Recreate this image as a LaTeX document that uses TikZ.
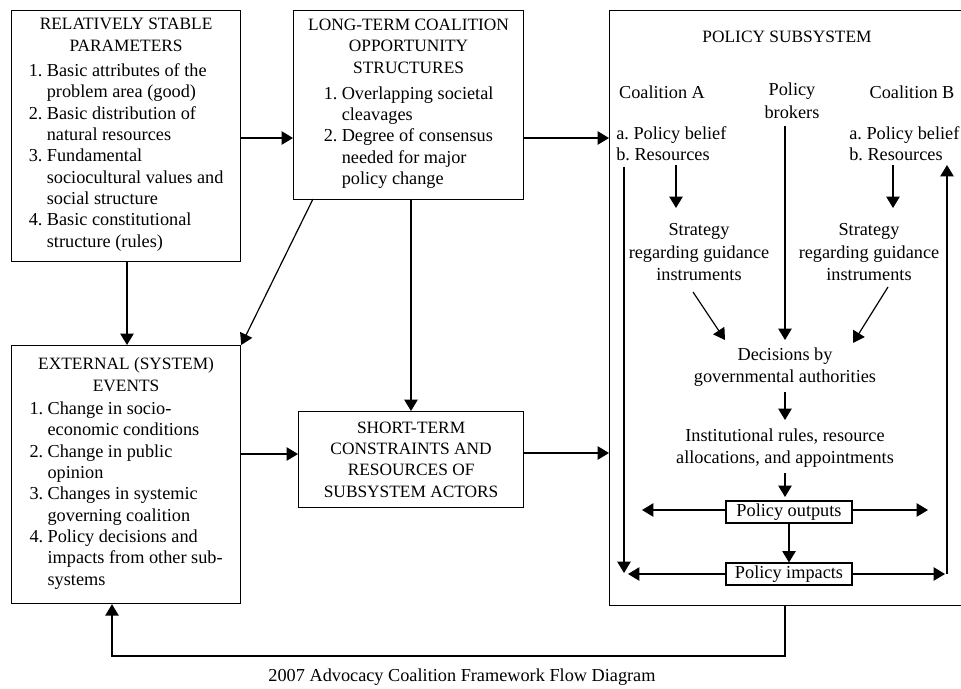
\documentclass[tikz,border=0pt]{standalone}
\usepackage{fontspec}
\usepackage{array}
\setmainfont{Liberation Serif}
\usetikzlibrary{arrows.meta,calc}
\newcommand{\fcap}{\fontsize{13}{16}\selectfont\frenchspacing}
\newcommand{\fbody}{\fontsize{13.7}{16}\selectfont\frenchspacing}
\tikzset{
  box/.style={draw, line width=0.9pt, anchor=north west, inner sep=0pt, align=center, font=\fcap},
  arr/.style={line width=0.9pt, -{Triangle[length=8.5pt,width=10pt]}},
  txt/.style={inner sep=0pt, align=center, font=\fbody},
  captxt/.style={inner sep=0pt, align=center, font=\fcap},
  sbox/.style={draw, line width=0.8pt, inner sep=0pt, minimum width=94.5pt, minimum height=16.5pt, font=\fbody}
}
\newenvironment{itemtab}{\begin{tabular}[t]{@{}>{\fbody}l@{\ }>{\fbody}l@{}}}{\end{tabular}}
\begin{document}
\begin{tikzpicture}[x=0.75pt,y=-0.75pt]
\useasboundingbox (0,0) rectangle (961,689);
% left column boxes
\node[box, minimum width=171.75pt, minimum height=188.25pt] (b1) at (11,10)
 {RELATIVELY STABLE\\PARAMETERS\\[3pt]
  \begin{itemtab}
  1.&Basic attributes of the\\ &problem area (good)\\
  2.&Basic distribution of\\ &natural resources\\
  3.&Fundamental\\ &sociocultural values and\\ &social structure\\
  4.&Basic constitutional\\ &structure (rules)
  \end{itemtab}};
\node[box, minimum width=172.5pt, minimum height=141.75pt] (b2) at (293,10)
 {LONG-TERM COALITION\\OPPORTUNITY\\STRUCTURES\\[3.5pt]
  \begin{itemtab}
  1.&Overlapping societal\\ &cleavages\\
  2.&Degree of consensus\\ &needed for major\\ &policy change
  \end{itemtab}};
\node[box, minimum width=171.75pt, minimum height=193.5pt] (b3) at (11,345)
 {EXTERNAL (SYSTEM)\\EVENTS\\[1.5pt]
  \begin{itemtab}
  1.&Change in socio-\\ &economic conditions\\
  2.&Change in public\\ &opinion\\
  3.&Changes in systemic\\ &governing coalition\\
  4.&Policy decisions and\\ &impacts from other sub-\\ &systems
  \end{itemtab}};
\node[box, minimum width=168.75pt, minimum height=72pt] (b4) at (298,411)
 {SHORT-TERM\\CONSTRAINTS AND\\RESOURCES OF\\SUBSYSTEM ACTORS};
\node[box, minimum width=264pt, minimum height=446.25pt] (ps) at (609,10) {};
% policy subsystem contents
\node[captxt] (pst) at (787,37) {POLICY SUBSYSTEM};
\node[txt] (coA) at (662,92) {Coalition A};
\node[txt] (brk) at (792,101) {Policy\\[1pt]brokers};
\node[txt] (coB) at (912,92) {Coalition B};
\node[txt, align=left, anchor=west] (bA) at (616,144) {a. Policy belief\\b. Resources};
\node[txt, align=left, anchor=west] (bB) at (849,144) {a. Policy belief\\b. Resources};
\node[txt] (stA) at (699,252) {Strategy\\[1.5pt]regarding guidance\\instruments};
\node[txt] (stB) at (869,252) {Strategy\\[1.5pt]regarding guidance\\instruments};
\node[txt] (dec) at (785,367) {Decisions by\\governmental authorities};
\node[txt] (inst) at (785,448) {Institutional rules, resource\\allocations, and appointments};
\node[sbox] (out) at (789,512) {Policy outputs};
\node[sbox] (imp) at (789,574) {Policy impacts};
\node[txt] (cap) at (462,677) {2007 Advocacy Coalition Framework Flow Diagram};
% helper coordinates
\coordinate (yA) at (0,138);
\coordinate (xA) at (676,0);
\coordinate (xB) at (893,0);
\coordinate (xR) at (947,0);
\coordinate (stAe) at (676,208);
\coordinate (stBe) at (893,208);
\coordinate (dA1) at (693,292);
\coordinate (dA2) at (725,340);
\coordinate (dB1) at (888,287);
\coordinate (dB2) at (853,343);
\coordinate (brkS) at (785,126);
\coordinate (decN) at (785,340);
\coordinate (oL) at (642,510);
\coordinate (oR) at (928,510);
\coordinate (iL) at (628,574);
\coordinate (iR) at (945,574);
\coordinate (lvS) at (624,167);
\coordinate (lvE) at (624,573);
\coordinate (rvE) at (947,165);
\coordinate (fb) at (785,656);
\coordinate (fbe) at (112,656);
\coordinate (b2d) at (313,199);
% outer connectors
\draw[arr] (b1.east |- yA) -- (b2.west |- yA);
\draw[arr] (b2.east |- yA) -- (ps.west |- yA);
\draw[arr] (b1.south -| 127,0) -- (b3.north -| 127,0);
\draw[arr] (b2d) -- (b3.north east);
\draw[arr] (b2.south -| 411,0) -- (b4.north -| 411,0);
\draw[arr] (b3.east |- 0,454) -- (b4.west |- 0,454);
\draw[arr] (b4.east |- 0,453) -- (ps.west |- 0,453);
\draw[arr] (ps.south -| fb) -- (fb) -- (fbe) -- (b3.south -| fbe);
% inner connectors
\draw[arr] (xA |- 0,165) -- (stAe);
\draw[arr] (xB |- 0,165) -- (stBe);
\draw[arr] (brkS) -- (decN);
\draw[arr] (dA1) -- (dA2);
\draw[arr] (dB1) -- (dB2);
\draw[arr] (dec.south |- 0,392) -- (inst.north |- 0,420);
\draw[arr] (inst.south |- 0,473) -- (inst.south |- 0,497);
\draw[arr] (out.west |- oL) -- (oL);
\draw[arr] (out.east |- oR) -- (oR);
\draw[arr] (out.south) -- (imp.north);
\draw[arr] (imp.west) -- (iL);
\draw[arr] (imp.east) -- (iR);
\draw[arr] (lvS) -- (lvE);
\draw[arr] (xR |- iR) -- (rvE);
\end{tikzpicture}
\end{document}
